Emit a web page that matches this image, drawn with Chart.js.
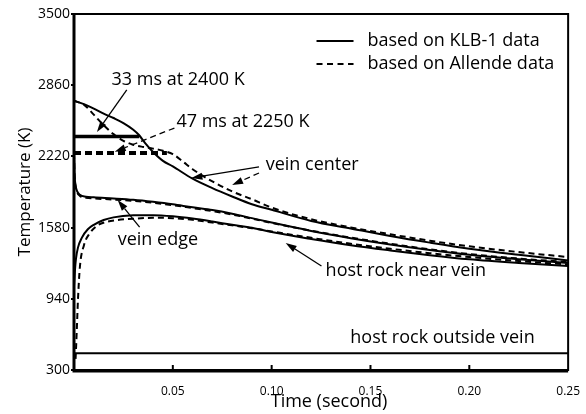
<!DOCTYPE html>
<html>
<head>
<meta charset="utf-8">
<script src="https://cdn.jsdelivr.net/npm/chart.js@4.4.0/dist/chart.umd.min.js"></script>
<style>
  html, body { margin: 0; padding: 0; background: #fff; }
</style>
</head>
<body>
<canvas id="c" width="586" height="414"></canvas>
<script>
// time (s) and temperature (K)
const tCenterKLB = [0, 0.005, 0.01, 0.015, 0.02, 0.025, 0.03, 0.033, 0.036, 0.04, 0.045, 0.05, 0.06, 0.07, 0.08, 0.09, 0.1, 0.12, 0.14, 0.16, 0.18, 0.2, 0.225, 0.25];
const TCenterKLB = [2720, 2690, 2650, 2605, 2565, 2520, 2460, 2410, 2340, 2260, 2180, 2130, 2020, 1935, 1860, 1790, 1740, 1640, 1572, 1505, 1445, 1390, 1335, 1285];

const tCenterAll = [0, 0.005, 0.01, 0.015, 0.02, 0.025, 0.03, 0.035, 0.04, 0.045, 0.05, 0.055, 0.06, 0.07, 0.08, 0.09, 0.1, 0.12, 0.14, 0.16, 0.18, 0.2, 0.225, 0.25];
const TCenterAll = [2720, 2685, 2595, 2500, 2420, 2360, 2325, 2305, 2290, 2270, 2240, 2175, 2105, 1995, 1905, 1835, 1760, 1655, 1582, 1520, 1462, 1412, 1360, 1315];

const tEdge = [0, 0.0003, 0.0008, 0.0015, 0.003, 0.006, 0.01, 0.02, 0.03, 0.04, 0.05, 0.06, 0.07, 0.08, 0.09, 0.1, 0.12, 0.14, 0.16, 0.18, 0.2, 0.225, 0.25];
const TEdgeKLB = [2250, 2050, 1960, 1910, 1875, 1858, 1852, 1842, 1830, 1812, 1790, 1762, 1738, 1705, 1665, 1625, 1550, 1485, 1428, 1378, 1335, 1295, 1262];
const TEdgeAll = [2250, 2040, 1950, 1900, 1865, 1848, 1842, 1832, 1820, 1803, 1782, 1755, 1728, 1698, 1660, 1622, 1552, 1490, 1435, 1385, 1342, 1302, 1270];

const tNearKLB = [0, 0.0005, 0.001, 0.002, 0.004, 0.007, 0.01, 0.015, 0.02, 0.03, 0.04, 0.05, 0.06, 0.07, 0.08, 0.09, 0.1, 0.12, 0.14, 0.16, 0.18, 0.2, 0.225, 0.25];
const TNearKLB = [1050, 1200, 1300, 1400, 1490, 1565, 1605, 1648, 1672, 1690, 1692, 1682, 1662, 1635, 1605, 1578, 1540, 1478, 1422, 1375, 1332, 1295, 1262, 1235];

const tNearAll = [0.0008, 0.001, 0.0015, 0.002, 0.003, 0.005, 0.008, 0.012, 0.016, 0.022, 0.03, 0.04, 0.05, 0.06, 0.07, 0.08, 0.09, 0.1, 0.12, 0.14, 0.16, 0.18, 0.2, 0.225, 0.25];
const TNearAll = [400, 480, 700, 930, 1230, 1420, 1530, 1600, 1630, 1648, 1660, 1668, 1665, 1650, 1625, 1600, 1575, 1545, 1488, 1435, 1390, 1350, 1315, 1280, 1248];

const tOutside = [0, 0.25];
const TOutside = [450, 450];

// 33 ms at 2400 K and 47 ms at 2250 K
const tHoldKLB = [0, 0.033];
const THoldKLB = [2400, 2400];
const tHoldAll = [0, 0.047];
const THoldAll = [2250, 2250];

const yTicks = [300, 940, 1580, 2220, 2860, 3500];
const xTicks = [0.05, 0.10, 0.15, 0.20, 0.25];

const FONT = '"Open Sans", "Noto Sans", sans-serif';
const DASH = [6, 4];

function pts(ts, vs) {
  return ts.map((t, i) => ({ x: t, y: vs[i] }));
}

function curve(ts, vs, dashed, width) {
  return {
    data: pts(ts, vs),
    borderColor: '#000',
    borderWidth: width || 2,
    borderDash: dashed ? DASH : [],
    pointRadius: 0,
    fill: false,
    cubicInterpolationMode: 'monotone'
  };
}

// labels, arrows, legend (positions in data units: [time, K])
const notes = [
  { text: '33 ms at 2400 K', at: [0.019, 2907] },
  { text: '47 ms at 2250 K', at: [0.0518, 2529] },
  { text: 'vein center', at: [0.097, 2142] },
  { text: 'vein edge', at: [0.0221, 1468] },
  { text: 'host rock near vein', at: [0.1273, 1190] },
  { text: 'host rock outside vein', at: [0.1398, 587] }
];
const arrows = [
  { from: [0.0267, 2817], to: [0.0116, 2439], dashed: false },
  { from: [0.0508, 2475], to: [0.0206, 2262], dashed: true },
  { from: [0.0936, 2125], to: [0.0594, 2026], dashed: false },
  { from: [0.0936, 2071], to: [0.0800, 1963], dashed: true },
  { from: [0.0332, 1585], to: [0.0221, 1828], dashed: false },
  { from: [0.1252, 1235], to: [0.1071, 1441], dashed: false }
];
const legendItems = [
  { text: 'based on KLB-1 data', dashed: false, at: [0.1227, 3257] },
  { text: 'based on Allende data', dashed: true, at: [0.1227, 3050] }
];

const extras = {
  id: 'extras',
  afterDatasetsDraw(chart) {
    const { ctx, chartArea: ca, scales: { x, y } } = chart;
    const px = p => [x.getPixelForValue(p[0]), y.getPixelForValue(p[1])];
    ctx.save();

    // frame
    ctx.strokeStyle = '#000';
    ctx.lineWidth = 2;
    ctx.strokeRect(ca.left, ca.top, ca.right - ca.left, ca.bottom - ca.top);
    ctx.lineWidth = 3;
    ctx.beginPath();
    ctx.moveTo(ca.left, ca.top - 1);
    ctx.lineTo(ca.left, ca.bottom + 1);
    ctx.lineTo(ca.right, ca.bottom + 1);
    ctx.stroke();

    // inward x ticks
    ctx.lineWidth = 2;
    xTicks.slice(0, -1).forEach(v => {
      const xx = x.getPixelForValue(v);
      ctx.beginPath();
      ctx.moveTo(xx, ca.bottom);
      ctx.lineTo(xx, ca.bottom - 5);
      ctx.stroke();
    });

    // texts
    ctx.fillStyle = '#000';
    ctx.font = '18px ' + FONT;
    ctx.textBaseline = 'middle';
    ctx.textAlign = 'left';
    notes.forEach(n => {
      const [a, b] = px(n.at);
      ctx.fillText(n.text, a, b);
    });

    // x axis title, sits a little right of centre in the original
    ctx.textAlign = 'center';
    ctx.fillText('Time (second)', (ca.left + ca.right) / 2 + 8, ca.bottom + 32);
    ctx.textAlign = 'left';

    // arrows
    arrows.forEach(ar => {
      const [x0, y0] = px(ar.from);
      const [x1, y1] = px(ar.to);
      const ang = Math.atan2(y1 - y0, x1 - x0);
      const hl = 11, hw = 3.5;
      const bx = x1 - hl * Math.cos(ang), by = y1 - hl * Math.sin(ang);
      ctx.lineWidth = 1.3;
      ctx.setLineDash(ar.dashed ? [6, 4] : []);
      ctx.beginPath();
      ctx.moveTo(x0, y0);
      ctx.lineTo(bx, by);
      ctx.stroke();
      ctx.setLineDash([]);
      ctx.beginPath();
      ctx.moveTo(x1, y1);
      ctx.lineTo(bx + hw * Math.sin(ang), by - hw * Math.cos(ang));
      ctx.lineTo(bx - hw * Math.sin(ang), by + hw * Math.cos(ang));
      ctx.closePath();
      ctx.fill();
    });

    // legend
    legendItems.forEach(it => {
      const [a, b] = px(it.at);
      ctx.lineWidth = 2;
      ctx.setLineDash(it.dashed ? [6, 4.5] : []);
      ctx.beginPath();
      ctx.moveTo(a, b);
      ctx.lineTo(a + 37, b);
      ctx.stroke();
      ctx.setLineDash([]);
      ctx.fillText(it.text, a + 51, b);
    });

    ctx.restore();
  }
};

new Chart(document.getElementById('c'), {
  type: 'line',
  data: {
    datasets: [
      curve(tCenterKLB, TCenterKLB, false),
      curve(tCenterAll, TCenterAll, true),
      curve(tEdge, TEdgeKLB, false),
      curve(tEdge, TEdgeAll, true),
      curve(tNearKLB, TNearKLB, false),
      curve(tNearAll, TNearAll, true),
      curve(tOutside, TOutside, false),
      curve(tHoldKLB, THoldKLB, false, 3.5),
      Object.assign(curve(tHoldAll, THoldAll, true, 4), { borderDash: [7, 4] })
    ]
  },
  options: {
    responsive: false,
    animation: false,
    layout: { padding: { top: 14, right: 16, left: 0, bottom: 0 } },
    plugins: { legend: { display: false }, tooltip: { enabled: false } },
    scales: {
      x: {
        type: 'linear',
        min: 0,
        max: 0.25,
        afterFit: s => { s.height = 44; },
        afterBuildTicks: s => { s.ticks = xTicks.map(v => ({ value: v })); },
        grid: { display: false },
        border: { display: false },
        ticks: {
          color: '#000',
          padding: 6,
          maxRotation: 0,
          font: { family: FONT, size: 12 },
          callback: v => v.toFixed(2)
        },
        title: { display: false }
      },
      y: {
        min: 300,
        max: 3500,
        afterFit: s => { s.width = 74; },
        afterBuildTicks: s => { s.ticks = yTicks.map(v => ({ value: v })); },
        grid: {
          display: true,
          drawOnChartArea: false,
          drawTicks: true,
          tickLength: 3,
          color: '#000',
          lineWidth: 2
        },
        border: { display: false },
        ticks: {
          color: '#000',
          padding: 1,
          font: { family: FONT, size: 14 },
          callback: v => String(v)
        },
        title: {
          display: true,
          text: 'Temperature (K)',
          color: '#000',
          font: { family: FONT, size: 17 },
          padding: { top: 15, bottom: 0 }
        }
      }
    }
  },
  plugins: [extras]
});
</script>
</body>
</html>
